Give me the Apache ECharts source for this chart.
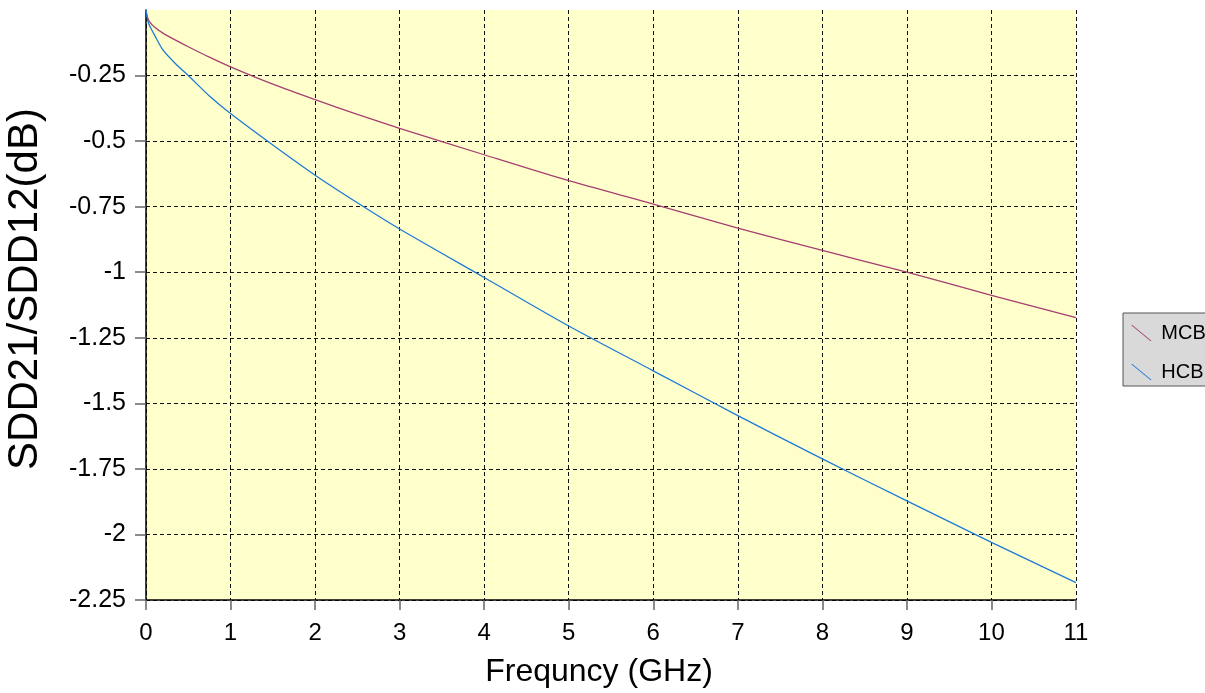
<!DOCTYPE html>
<html>
<head>
<meta charset="utf-8">
<script src="https://cdn.jsdelivr.net/npm/echarts@6/dist/echarts.min.js"></script>
<style>
html,body{margin:0;padding:0;background:#fff;}
#chart{width:1205px;height:693px;}
</style>
</head>
<body>
<div id="chart"></div>
<script>
// Frequency (GHz)
var freq = [0, 0.02, 0.05, 0.1, 0.2, 0.35, 0.5, 0.75, 1, 1.5, 2, 2.5, 3, 4, 5, 6, 7, 8, 9, 10, 11];
// SDD21/SDD12 (dB)
var mcb = [0, -0.03, -0.048, -0.065, -0.088, -0.115, -0.14, -0.18, -0.217, -0.283, -0.342, -0.398, -0.451, -0.552, -0.651, -0.740, -0.832, -0.917, -1.0, -1.088, -1.173];
var hcb = [0, -0.04, -0.065, -0.095, -0.152, -0.205, -0.25, -0.328, -0.395, -0.515, -0.630, -0.735, -0.835, -1.02, -1.205, -1.376, -1.547, -1.712, -1.872, -2.03, -2.184];
var seriesNames = ['MCB', 'HCB'];
var xTicks = {min: 0, max: 11, interval: 1};
var yTicks = {min: -2.25, max: 0, interval: 0.25};
var yTickValues = [-2.25, -2, -1.75, -1.5, -1.25, -1, -0.75, -0.5, -0.25];

function pairs(xs, ys) { return xs.map(function (x, i) { return [x, ys[i]]; }); }

var chart = echarts.init(document.getElementById('chart'), null, {renderer: 'canvas'});
var font = 'Liberation Sans, Arial, Helvetica, sans-serif';
var gridLine = {show: true, lineStyle: {color: '#111', type: [4, 3], width: 1}};
chart.setOption({
  animation: false,
  backgroundColor: '#ffffff',
  grid: {left: 146, right: 129, top: 10, bottom: 93, show: true, backgroundColor: '#ffffcc', borderWidth: 0,
         containLabel: false, outerBoundsMode: 'none'},
  legend: {
    orient: 'vertical', left: 1123, top: 313,
    data: seriesNames,
    backgroundColor: '#d9d9d9', borderColor: '#555', borderWidth: 1,
    padding: [10, 10, 4, 8], itemWidth: 22, itemHeight: 16, itemGap: 19,
    icon: 'path://M0,0 L1.4,0 L22,17 L20.6,17 Z',
    textStyle: {fontFamily: font, fontSize: 20, color: '#000', padding: [0, 0, 0, 4]}
  },
  xAxis: {
    type: 'value', min: xTicks.min, max: xTicks.max, interval: xTicks.interval,
    name: 'Frequncy (GHz)', nameLocation: 'middle', nameGap: 56,
    nameTextStyle: {fontFamily: font, fontSize: 32, color: '#000', padding: [0, 24, 0, 0]},
    axisLine: {show: true, onZero: false, lineStyle: {color: '#000', width: 1.5}},
    axisTick: {show: true, length: 10, lineStyle: {color: '#666', width: 1.5}},
    axisLabel: {fontFamily: font, fontSize: 24, color: '#000', margin: 21},
    splitLine: gridLine
  },
  yAxis: {
    type: 'value', min: yTicks.min, max: yTicks.max, interval: yTicks.interval,
    name: 'SDD21/SDD12(dB)', nameLocation: 'middle', nameGap: 100,
    nameTextStyle: {fontFamily: font, fontSize: 42, color: '#000', padding: [0, 0, 0, 32]},
    axisLine: {show: true, onZero: false, lineStyle: {color: '#000', width: 1.5}},
    axisTick: {show: true, length: 11, customValues: yTickValues, lineStyle: {color: '#666', width: 1.5}},
    axisLabel: {fontFamily: font, fontSize: 25, color: '#000', margin: 20,
      formatter: function (v) { return v === 0 ? '' : String(v); }},
    splitLine: gridLine
  },
  series: [
    {name: seriesNames[0], type: 'line', data: pairs(freq, mcb), smooth: 0.25, showSymbol: false,
     lineStyle: {color: '#a53f70', width: 1.3}, itemStyle: {color: '#a53f70'}},
    {name: seriesNames[1], type: 'line', data: pairs(freq, hcb), smooth: 0.25, showSymbol: false,
     lineStyle: {color: '#1f7ad8', width: 1.3}, itemStyle: {color: '#1f7ad8'}}
  ]
});
</script>
</body>
</html>
